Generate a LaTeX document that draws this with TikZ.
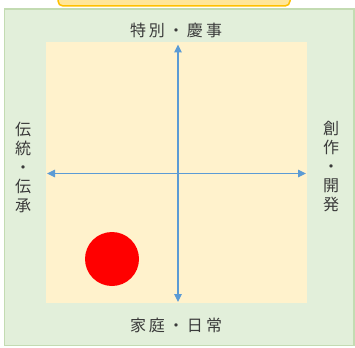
\documentclass[tikz,border=0pt]{standalone}
\usepackage{fontspec}
\newfontfamily\jp{Noto Sans CJK JP}
\usetikzlibrary{arrows.meta}
\definecolor{outerfill}{HTML}{E2EFDA}
\definecolor{outerline}{HTML}{C3DBB2}
\definecolor{innerfill}{HTML}{FFF2CC}
\definecolor{topfill}{HTML}{FFE699}
\definecolor{topline}{HTML}{FFC000}
\definecolor{axisblue}{HTML}{5B9BD5}
\definecolor{labelgray}{HTML}{3A3A3A}
\newcommand\cc[1]{\makebox[19pt]{#1}}
\tikzset{
  axisline/.style={axisblue, line width=1.2pt, {Triangle[length=8pt,width=7.5pt]}-{Triangle[length=8pt,width=7.5pt]}},
  hlabel/.style={text=labelgray, font=\jp\fontsize{16}{19}\selectfont, inner sep=0pt},
  vlabel/.style={text=labelgray, font=\jp\fontsize{16}{19}\selectfont, inner sep=0pt, align=center},
}
\begin{document}
\begin{tikzpicture}[x=1pt,y=-1pt]
\useasboundingbox (0,0) rectangle (355,347);
\begin{scope}
\clip (0,0) rectangle (355,347);
\draw[fill=topfill, draw=topline, line width=1.5pt, rounded corners=5pt] (58,-12) rectangle (290,6) ;
\draw[fill=outerfill, draw=outerline, line width=1.5pt] (4.5,9) rectangle (354,345.5);
\end{scope}
\node[fill=innerfill, minimum width=261pt, minimum height=261pt, inner sep=0pt] (inner) at (176.5,172.5) {};
\coordinate (top) at (178,44.5);
\coordinate (bottom) at (178,302);
\coordinate (left) at (47,173.5);
\coordinate (right) at (306,173.5);
\draw[axisline] (bottom) -- (top);
\draw[axisline] (left) -- (right);
\node[hlabel] (tl) at (176,30) {\cc{特}\cc{別}\cc{・}\cc{慶}\cc{事}};
\node[hlabel] (bl) at (176,325) {\cc{家}\cc{庭}\cc{・}\cc{日}\cc{常}};
\node[vlabel] (ll) at (23,167) {伝\\統\\・\\伝\\承};
\node[vlabel] (rl) at (331,167) {創\\作\\・\\開\\発};
\node[circle, fill=red, minimum size=54pt, inner sep=0pt] (dot) at (112,259) {};
\end{tikzpicture}
\end{document}
